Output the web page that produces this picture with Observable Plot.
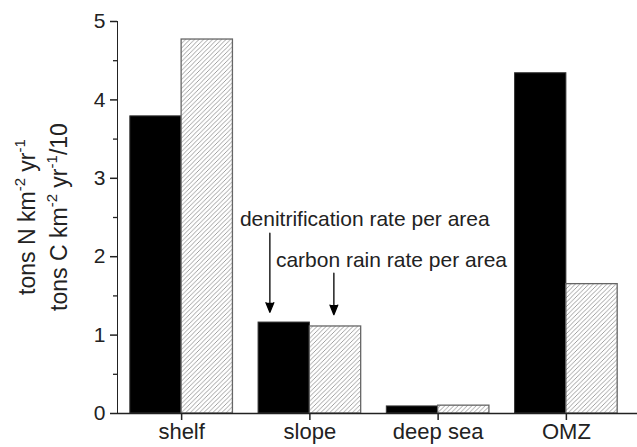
<!DOCTYPE html>
<html><head><meta charset="utf-8">
<script src="https://cdn.jsdelivr.net/npm/d3@7"></script>
<script src="https://cdn.jsdelivr.net/npm/@observablehq/plot@0.6"></script>
<style>body{margin:0;background:#fff;}</style>
</head><body><div id="chart"></div>
<script>
// ---- data ----
const categories = ["shelf", "slope", "deep sea", "OMZ"];
const denitrification = [3.79, 1.16, 0.09, 4.34];   // tons N km^-2 yr^-1
const carbonRain = [4.77, 1.11, 0.10, 1.65];        // tons C km^-2 yr^-1 / 10
const yTicks = [0, 1, 2, 3, 4, 5];
const yMinorTicks = [0.5, 1.5, 2.5, 3.5, 4.5];
const annotationLabels = ["denitrification rate per area", "carbon rain rate per area"];
const yLabelLines = [
  ["tons N km", "-2", " yr", "-1", ""],
  ["tons C km", "-2", " yr", "-1", "/10"]
];

const rows = categories.map((category, i) => ({category, N: denitrification[i], C: carbonRain[i]}));

// ---- layout ----
const width = 637, height = 447;
const marginLeft = 117, marginRight = 7, marginTop = 21, marginBottom = 34;
const paddingInner = 0.2;
const step = (width - marginLeft - marginRight) / categories.length;
const halfBand = step * (1 - paddingInner) / 2;
const font = "'Liberation Sans', Arial, Helvetica, sans-serif";
const ink = "#222";

const labelRows = [
  {category: "slope", label: annotationLabels[0], y: 2.48},
  {category: "slope", label: annotationLabels[1], y: 1.96}
];
const arrowN = [{category: "slope", y1: 2.30, y2: 1.29}];
const arrowC = [{category: "slope", y1: 1.79, y2: 1.26}];

const chart = Plot.plot({
  width, height, marginLeft, marginRight, marginTop, marginBottom,
  style: {fontFamily: font, fontSize: "21px", color: ink, background: "#fff"},
  x: {domain: categories, paddingInner, paddingOuter: paddingInner / 2, round: false,
      tickSize: 7, tickPadding: 3, label: null},
  y: {domain: [0, 5], ticks: yTicks, tickSize: 7, tickPadding: 5, line: true, label: null,
      tickFormat: d => String(d)},
  marks: [
    Plot.barY(rows, {x: "category", y: "N", fill: "black", stroke: "#333", strokeWidth: 1,
                     insetRight: halfBand}),
    Plot.barY(rows, {x: "category", y: "C", fill: "url(#hatch)", stroke: "#666", strokeWidth: 1.3,
                     insetLeft: halfBand}),
    Plot.ruleY([0], {stroke: ink, strokeWidth: 1.5, insetRight: -marginRight}),
    Plot.ruleY(yMinorTicks, {y: d => d, stroke: ink, strokeWidth: 1.3,
                             insetLeft: -4, insetRight: width - marginLeft - marginRight}),
    Plot.text(labelRows.slice(0, 1), {x: "category", y: "y", text: "label", textAnchor: "start",
                                      dx: -70, fill: ink, fontSize: 21}),
    Plot.text(labelRows.slice(1), {x: "category", y: "y", text: "label", textAnchor: "start",
                                   dx: -34, fill: ink, fontSize: 21}),
    Plot.arrow(arrowN, {x: "category", y1: "y1", y2: "y2", dx: -40, stroke: "black", fill: "black",
                        strokeWidth: 1.3, headLength: 12, headAngle: 44}),
    Plot.arrow(arrowC, {x: "category", y1: "y1", y2: "y2", dx: 24, stroke: "black", fill: "black",
                        strokeWidth: 1.3, headLength: 12, headAngle: 44})
  ]
});

document.getElementById("chart").appendChild(chart);

// hatch pattern for the carbon-rain bars
const svg = d3.select(chart);
const defs = svg.insert("defs", ":first-child");
const pat = defs.append("pattern").attr("id", "hatch").attr("patternUnits", "userSpaceOnUse")
  .attr("width", 4.5).attr("height", 4.5);
pat.append("rect").attr("width", 4.5).attr("height", 4.5).attr("fill", "#fff");
pat.append("path").attr("d", "M0,4.5L4.5,0M-1,1L1,-1M3.5,5.5L5.5,3.5")
  .attr("stroke", "#8f8f8f").attr("stroke-width", 0.85).attr("fill", "none");

// axis label sizes
svg.selectAll("g[aria-label^='x-axis'] text").attr("font-size", 22);
svg.selectAll("g[aria-label^='y-axis'] path, g[aria-label^='y-axis'] line, g[aria-label^='x-axis'] line, g[aria-label^='x-axis'] path")
  .attr("stroke-width", 1.5);

// two-line rotated y-axis label with superscripts
const lab = svg.append("g").attr("fill", ink).attr("font-family", font);
const lineX = [35, 67];
const centerY = (marginTop + height - marginBottom) / 2;
yLabelLines.forEach((parts, li) => {
  const t = lab.append("text").attr("text-anchor", "middle")
    .attr("transform", `translate(${lineX[li]},${centerY}) rotate(-90)`);
  parts.forEach((p, k) => {
    if (!p) return;
    const sup = k % 2 === 1;
    t.append("tspan").text(p)
      .attr("font-size", sup ? 15 : 23)
      .attr("dy", sup ? -10 : (k > 0 ? 10 : 0));
  });
});
</script>
</body></html>
